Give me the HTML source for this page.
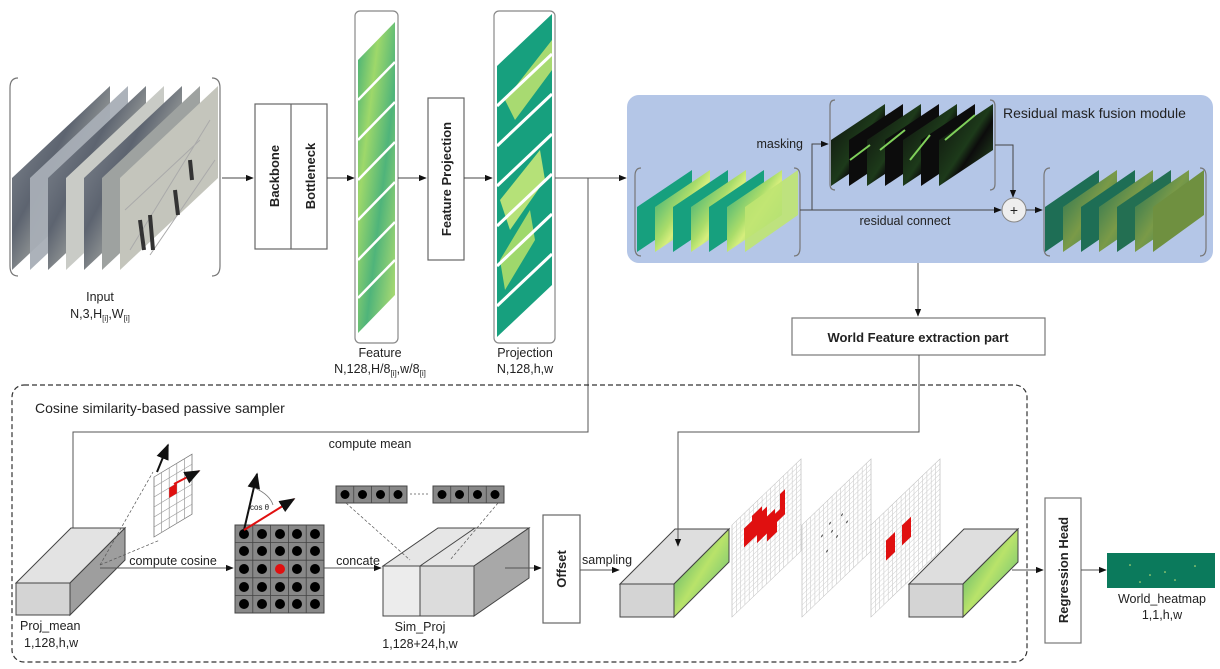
<!DOCTYPE html>
<html><head><meta charset="utf-8"><style>
html,body{margin:0;padding:0;background:#fff;}
svg{display:block;}
text{font-family:"Liberation Sans",Arial,sans-serif;fill:#222;}
</style></head><body>
<svg width="1220" height="669" viewBox="0 0 1220 669" xmlns="http://www.w3.org/2000/svg">
<defs>
<marker id="ar" viewBox="0 0 10 10" refX="9" refY="5" markerWidth="8" markerHeight="8" orient="auto"><path d="M0,1 L10,5 L0,9 z" fill="#111"/></marker>
<linearGradient id="gin" x1="0" y1="0" x2="1" y2="1"><stop offset="0" stop-color="#8c929a"/><stop offset="0.4" stop-color="#5d6470"/><stop offset="0.7" stop-color="#b7b9b0"/><stop offset="1" stop-color="#d8d8d0"/></linearGradient>
<linearGradient id="gfeat" x1="0" y1="0" x2="1" y2="1"><stop offset="0" stop-color="#3fae78"/><stop offset="0.3" stop-color="#9ed86a"/><stop offset="0.6" stop-color="#4fb47a"/><stop offset="1" stop-color="#b8e070"/></linearGradient>
<linearGradient id="gproj" x1="0" y1="0" x2="1" y2="1"><stop offset="0" stop-color="#17a07e"/><stop offset="0.45" stop-color="#a9dc6a"/><stop offset="0.55" stop-color="#d6ee7c"/><stop offset="1" stop-color="#17a07e"/></linearGradient>
<linearGradient id="gmask" x1="0" y1="0" x2="1" y2="1"><stop offset="0" stop-color="#0c0c0c"/><stop offset="0.5" stop-color="#1d3a1a"/><stop offset="0.6" stop-color="#0c0c0c"/><stop offset="1" stop-color="#2e5d28"/></linearGradient>
<linearGradient id="gout" x1="0" y1="0" x2="1" y2="1"><stop offset="0" stop-color="#1e6e55"/><stop offset="0.5" stop-color="#7a9a48"/><stop offset="1" stop-color="#2a7a58"/></linearGradient>
<linearGradient id="gside" x1="0" y1="0" x2="1" y2="1"><stop offset="0" stop-color="#2f9e6e"/><stop offset="0.5" stop-color="#b9e36a"/><stop offset="1" stop-color="#4db27a"/></linearGradient>
</defs>

<!-- INPUT -->
<path d="M18,78 Q10,78 10,88 L10,266 Q10,276 18,276" fill="none" stroke="#777" stroke-width="1.2"/>
<path d="M212,78 Q220,78 220,88 L220,266 Q220,276 212,276" fill="none" stroke="#777" stroke-width="1.2"/>
<g>
<polygon points="12,178 110,86 110,178 12,270" fill="url(#gin)"/>
<polygon points="30,178 128,86 128,178 30,270" fill="#a8aeb6" opacity="0.95"/>
<polygon points="48,178 146,86 146,178 48,270" fill="url(#gin)"/>
<polygon points="66,178 164,86 164,178 66,270" fill="#c9cbc6"/>
<polygon points="84,178 182,86 182,178 84,270" fill="url(#gin)"/>
<polygon points="102,178 200,86 200,178 102,270" fill="#9ea2a0"/>
<polygon points="120,178 218,86 218,178 120,270" fill="#c4c5bc"/>
<path d="M130,250 L210,120 M150,255 L215,160 M125,210 L200,140" stroke="#aaa" stroke-width="1"/>
<path d="M140,220 l4,30 M150,215 l3,35 M175,190 l3,25 M190,160 l2,20" stroke="#333" stroke-width="4"/>
</g>
<text x="100" y="301" font-size="12.5" text-anchor="middle">Input</text>
<text x="100" y="318" font-size="12.5" text-anchor="middle">N,3,H<tspan font-size="8" dy="3">[i]</tspan><tspan dy="-3">,W</tspan><tspan font-size="8" dy="3">[i]</tspan></text>

<line x1="222" y1="178" x2="253" y2="178" stroke="#444" stroke-width="1" marker-end="url(#ar)"/>
<rect x="255" y="104" width="72" height="145" fill="#fff" stroke="#666" stroke-width="1.2"/>
<line x1="291" y1="104" x2="291" y2="249" stroke="#666" stroke-width="1.2"/>
<text transform="translate(279,176) rotate(-90)" font-size="13" font-weight="bold" text-anchor="middle">Backbone</text>
<text transform="translate(315,176) rotate(-90)" font-size="13" font-weight="bold" text-anchor="middle">Bottleneck</text>
<line x1="327" y1="178" x2="354" y2="178" stroke="#444" stroke-width="1" marker-end="url(#ar)"/>

<!-- FEATURE column -->
<rect x="355" y="11" width="43" height="332" rx="5" fill="none" stroke="#888" stroke-width="1.2"/>
<polygon points="358,60 395,22 395,295 358,333" fill="url(#gfeat)"/>
<g stroke="#fff" stroke-width="2.5">
<line x1="358" y1="100" x2="395" y2="62"/><line x1="358" y1="140" x2="395" y2="102"/><line x1="358" y1="180" x2="395" y2="142"/><line x1="358" y1="220" x2="395" y2="182"/><line x1="358" y1="260" x2="395" y2="222"/><line x1="358" y1="298" x2="395" y2="260"/>
</g>
<line x1="398" y1="178" x2="426" y2="178" stroke="#444" stroke-width="1" marker-end="url(#ar)"/>
<text x="380" y="357" font-size="12.5" text-anchor="middle">Feature</text>
<text x="380" y="373" font-size="12.5" text-anchor="middle">N,128,H/8<tspan font-size="8" dy="3">[i]</tspan><tspan dy="-3">,w/8</tspan><tspan font-size="8" dy="3">[i]</tspan></text>

<rect x="428" y="98" width="36" height="162" fill="#fff" stroke="#666" stroke-width="1.2"/>
<text transform="translate(451,179) rotate(-90)" font-size="13" font-weight="bold" text-anchor="middle">Feature Projection</text>
<line x1="464" y1="178" x2="492" y2="178" stroke="#444" stroke-width="1" marker-end="url(#ar)"/>

<!-- PROJECTION column -->
<rect x="494" y="11" width="61" height="332" rx="5" fill="none" stroke="#888" stroke-width="1.2"/>
<polygon points="497,66 552,14 552,285 497,337" fill="#17a07e"/>
<polygon points="505,100 552,40 552,70 515,120" fill="#b8e070" opacity="0.9"/>
<polygon points="500,200 540,150 545,180 510,230" fill="#c6e878" opacity="0.9"/>
<polygon points="500,260 530,210 535,240 505,290" fill="#aede6a" opacity="0.9"/>
<g stroke="#fff" stroke-width="3">
<line x1="497" y1="106" x2="552" y2="54"/><line x1="497" y1="146" x2="552" y2="94"/><line x1="497" y1="186" x2="552" y2="134"/><line x1="497" y1="226" x2="552" y2="174"/><line x1="497" y1="266" x2="552" y2="214"/><line x1="497" y1="306" x2="552" y2="254"/>
</g>
<text x="525" y="357" font-size="12.5" text-anchor="middle">Projection</text>
<text x="525" y="373" font-size="12.5" text-anchor="middle">N,128,h,w</text>

<line x1="555" y1="178" x2="626" y2="178" stroke="#555" stroke-width="1" marker-end="url(#ar)"/>
<polyline points="588,178 588,432 73,432 73,548" fill="none" stroke="#555" stroke-width="1" marker-end="url(#ar)"/>

<!-- BLUE MODULE -->
<rect x="627" y="95" width="586" height="168" rx="12" fill="#b4c6e7"/>
<path d="M641,168 Q635,168 635,176 L635,248 Q635,256 641,256" fill="none" stroke="#777" stroke-width="1.2"/>
<path d="M794,168 Q800,168 800,176 L800,248 Q800,256 794,256" fill="none" stroke="#777" stroke-width="1.2"/>
<g>
<polygon points="637,252 637,207 692,170 692,215" fill="#17a07e"/>
<polygon points="655,252 655,207 710,170 710,215" fill="url(#gproj)"/>
<polygon points="673,252 673,207 728,170 728,215" fill="#17a07e"/>
<polygon points="691,252 691,207 746,170 746,215" fill="url(#gproj)"/>
<polygon points="709,252 709,207 764,170 764,215" fill="#17a07e"/>
<polygon points="727,252 727,207 782,170 782,215" fill="url(#gproj)"/>
<polygon points="745,252 745,207 798,170 798,215" fill="#bfe472" opacity="0.9"/>
</g>
<path d="M835,100 Q830,100 830,106 L830,184 Q830,190 835,190" fill="none" stroke="#777" stroke-width="1.2"/>
<path d="M990,100 Q995,100 995,106 L995,184 Q995,190 990,190" fill="none" stroke="#777" stroke-width="1.2"/>
<g>
<polygon points="831,186 831,140 885,104 885,150" fill="url(#gmask)"/>
<polygon points="849,186 849,140 903,104 903,150" fill="#0c0c0c"/>
<polygon points="867,186 867,140 921,104 921,150" fill="url(#gmask)"/>
<polygon points="885,186 885,140 939,104 939,150" fill="#0c0c0c"/>
<polygon points="903,186 903,140 957,104 957,150" fill="url(#gmask)"/>
<polygon points="921,186 921,140 975,104 975,150" fill="#0c0c0c"/>
<polygon points="939,186 939,140 993,104 993,150" fill="url(#gmask)"/>
<path d="M850,160 l20,-15 M880,150 l25,-20 M910,160 l20,-25 M945,140 l30,-25" stroke="#7fcf5a" stroke-width="2"/>
</g>
<text x="1003" y="118" font-size="14">Residual mask fusion module</text>
<text x="803" y="148" font-size="12.5" text-anchor="end">masking</text>
<polyline points="812,210 812,144 828,144" fill="none" stroke="#444" stroke-width="1" marker-end="url(#ar)"/>
<line x1="800" y1="210" x2="1001" y2="210" stroke="#444" stroke-width="1" marker-end="url(#ar)"/>
<text x="905" y="225" font-size="12.5" text-anchor="middle">residual connect</text>
<polyline points="995,145 1013,145 1013,197" fill="none" stroke="#444" stroke-width="1" marker-end="url(#ar)"/>
<circle cx="1014" cy="210" r="12" fill="#eee" stroke="#888" stroke-width="1"/>
<text x="1014" y="215" font-size="14" text-anchor="middle" fill="#999">+</text>
<line x1="1026" y1="210" x2="1042" y2="210" stroke="#444" stroke-width="1" marker-end="url(#ar)"/>
<path d="M1050,168 Q1044,168 1044,176 L1044,248 Q1044,256 1050,256" fill="none" stroke="#777" stroke-width="1.2"/>
<path d="M1200,168 Q1206,168 1206,176 L1206,248 Q1206,256 1200,256" fill="none" stroke="#777" stroke-width="1.2"/>
<g>
<polygon points="1045,252 1045,207 1099,170 1099,215" fill="#1e6e55"/>
<polygon points="1063,252 1063,207 1117,170 1117,215" fill="url(#gout)"/>
<polygon points="1081,252 1081,207 1135,170 1135,215" fill="#1e6e55"/>
<polygon points="1099,252 1099,207 1153,170 1153,215" fill="url(#gout)"/>
<polygon points="1117,252 1117,207 1171,170 1171,215" fill="#236f52"/>
<polygon points="1135,252 1135,207 1189,170 1189,215" fill="url(#gout)"/>
<polygon points="1153,252 1153,207 1204,170 1204,215" fill="#6f9040"/>
</g>

<line x1="918" y1="263" x2="918" y2="316" stroke="#555" stroke-width="1" marker-end="url(#ar)"/>
<rect x="792" y="318" width="253" height="37" fill="#fff" stroke="#777" stroke-width="1.2"/>
<text x="918" y="342" font-size="13" font-weight="bold" text-anchor="middle">World Feature extraction part</text>
<polyline points="919,355 919,432 678,432 678,546" fill="none" stroke="#555" stroke-width="1" marker-end="url(#ar)"/>

<!-- DASHED CONTAINER -->
<rect x="12" y="385" width="1015" height="277" rx="12" fill="none" stroke="#333" stroke-width="1.2" stroke-dasharray="5,3"/>
<text x="35" y="413" font-size="14">Cosine similarity-based passive sampler</text>
<text x="370" y="448" font-size="12.5" text-anchor="middle">compute mean</text>

<!-- Proj_mean box -->
<polygon points="16,583 70,583 125,528 71,528" fill="#e3e3e3" stroke="#444" stroke-width="1"/>
<polygon points="70,583 125,528 125,560 70,615" fill="#9e9e9e" stroke="#444" stroke-width="1"/>
<rect x="16" y="583" width="54" height="32" fill="#d4d4d4" stroke="#444" stroke-width="1"/>
<text x="20" y="630" font-size="12.5">Proj_mean</text>
<text x="24" y="647" font-size="12.5">1,128,h,w</text>
<g transform="matrix(1,-0.6,0,1,154,477)">
<rect x="0" y="0" width="38" height="60" fill="#fff" stroke="#777" stroke-width="0.8"/>
<path d="M7.6,0v60M15.2,0v60M22.8,0v60M30.4,0v60M0,10h38M0,20h38M0,30h38M0,40h38M0,50h38" stroke="#999" stroke-width="0.7"/>
<rect x="15.2" y="20" width="7.6" height="10" fill="#e01010"/>
</g>
<line x1="157" y1="472" x2="168" y2="445" stroke="#111" stroke-width="2" marker-end="url(#ar)"/>
<line x1="174" y1="484" x2="199" y2="471" stroke="#e01010" stroke-width="2" marker-end="url(#ar)"/>
<path d="M100,565 L153,472 M100,565 L160,540" stroke="#555" stroke-width="0.7" stroke-dasharray="3,2" fill="none"/>
<line x1="100" y1="568" x2="233" y2="568" stroke="#555" stroke-width="1" marker-end="url(#ar)"/>
<text x="173" y="565" font-size="12.5" text-anchor="middle">compute cosine</text>

<!-- cosine grid -->
<rect x="235" y="525" width="89" height="88" fill="#888" stroke="#444" stroke-width="1"/>
<g stroke="#444" stroke-width="0.8">
<line x1="252.8" y1="525" x2="252.8" y2="613"/><line x1="270.6" y1="525" x2="270.6" y2="613"/><line x1="288.4" y1="525" x2="288.4" y2="613"/><line x1="306.2" y1="525" x2="306.2" y2="613"/>
<line x1="235" y1="542.6" x2="324" y2="542.6"/><line x1="235" y1="560.2" x2="324" y2="560.2"/><line x1="235" y1="577.8" x2="324" y2="577.8"/><line x1="235" y1="595.4" x2="324" y2="595.4"/>
</g>
<g fill="#000">
<circle cx="244" cy="534" r="5"/><circle cx="262" cy="534" r="5"/><circle cx="280" cy="534" r="5"/><circle cx="297" cy="534" r="5"/><circle cx="315" cy="534" r="5"/>
<circle cx="244" cy="551" r="5"/><circle cx="262" cy="551" r="5"/><circle cx="280" cy="551" r="5"/><circle cx="297" cy="551" r="5"/><circle cx="315" cy="551" r="5"/>
<circle cx="244" cy="569" r="5"/><circle cx="262" cy="569" r="5"/><circle cx="297" cy="569" r="5"/><circle cx="315" cy="569" r="5"/>
<circle cx="244" cy="587" r="5"/><circle cx="262" cy="587" r="5"/><circle cx="280" cy="587" r="5"/><circle cx="297" cy="587" r="5"/><circle cx="315" cy="587" r="5"/>
<circle cx="244" cy="604" r="5"/><circle cx="262" cy="604" r="5"/><circle cx="280" cy="604" r="5"/><circle cx="297" cy="604" r="5"/><circle cx="315" cy="604" r="5"/>
</g>
<circle cx="280" cy="569" r="5" fill="#e01010"/>
<line x1="244" y1="530" x2="257" y2="474" stroke="#111" stroke-width="2" marker-end="url(#ar)"/>
<line x1="244" y1="530" x2="294" y2="499" stroke="#e01010" stroke-width="2" marker-end="url(#ar)"/>
<path d="M255,488 Q270,495 273,505" fill="none" stroke="#777" stroke-width="0.8"/>
<text x="250" y="510" font-size="8" fill="#444">cos θ</text>
<line x1="324" y1="568" x2="381" y2="568" stroke="#555" stroke-width="1" marker-end="url(#ar)"/>
<text x="358" y="565" font-size="12.5" text-anchor="middle">concate</text>

<rect x="336" y="486" width="71" height="17" fill="#888" stroke="#444" stroke-width="1"/>
<path d="M353.75,486v17M371.5,486v17M389.25,486v17" stroke="#444" stroke-width="0.8"/>
<g fill="#000"><circle cx="345" cy="494.5" r="4.5"/><circle cx="362.5" cy="494.5" r="4.5"/><circle cx="380.5" cy="494.5" r="4.5"/><circle cx="398" cy="494.5" r="4.5"/></g>
<line x1="410" y1="494" x2="430" y2="494" stroke="#555" stroke-dasharray="2,2" stroke-width="0.8"/>
<rect x="433" y="486" width="71" height="17" fill="#888" stroke="#444" stroke-width="1"/>
<path d="M450.75,486v17M468.5,486v17M486.25,486v17" stroke="#444" stroke-width="0.8"/>
<g fill="#000"><circle cx="442" cy="494.5" r="4.5"/><circle cx="459.5" cy="494.5" r="4.5"/><circle cx="477.5" cy="494.5" r="4.5"/><circle cx="495" cy="494.5" r="4.5"/></g>

<!-- Sim_Proj box -->
<polygon points="383,566 474,566 529,528 438,528" fill="#e6e6e6" stroke="#444" stroke-width="1"/>
<polygon points="474,566 529,528 529,578 474,616" fill="#a8a8a8" stroke="#444" stroke-width="1"/>
<rect x="383" y="566" width="91" height="50" fill="#dcdcdc" stroke="#444" stroke-width="1"/>
<rect x="383" y="566" width="37" height="50" fill="#ececec" stroke="#444" stroke-width="1"/>
<line x1="420" y1="566" x2="475" y2="528" stroke="#444" stroke-width="1"/>
<path d="M346,503 L410,560 M498,503 L450,560" stroke="#555" stroke-width="0.7" stroke-dasharray="3,2" fill="none"/>
<text x="420" y="631" font-size="12.5" text-anchor="middle">Sim_Proj</text>
<text x="420" y="648" font-size="12.5" text-anchor="middle">1,128+24,h,w</text>
<line x1="505" y1="568" x2="541" y2="568" stroke="#555" stroke-width="1" marker-end="url(#ar)"/>
<rect x="543" y="515" width="37" height="108" fill="#fff" stroke="#666" stroke-width="1.2"/>
<text transform="translate(566,569) rotate(-90)" font-size="13" font-weight="bold" text-anchor="middle">Offset</text>
<line x1="580" y1="570" x2="619" y2="570" stroke="#555" stroke-width="1" marker-end="url(#ar)"/>
<text x="582" y="564" font-size="12.5">sampling</text>

<!-- green box 1 -->
<polygon points="620,584 674,584 729,529 675,529" fill="#dedede" stroke="#444" stroke-width="1"/>
<polygon points="674,584 729,529 729,562 674,617" fill="url(#gside)" stroke="#444" stroke-width="1"/>
<rect x="620" y="584" width="54" height="33" fill="#d4d4d4" stroke="#444" stroke-width="1"/>
<line x1="678" y1="520" x2="678" y2="546" stroke="#555" stroke-width="1" marker-end="url(#ar)"/>

<!-- grids -->
<g transform="matrix(1,-0.957,0,1,732,525)">
<rect x="0" y="0" width="69" height="92" fill="#fff" stroke="#bbb" stroke-width="0.7"/>
<path d="M4.3,0v92M8.6,0v92M12.9,0v92M17.2,0v92M21.5,0v92M25.8,0v92M30.1,0v92M34.4,0v92M38.7,0v92M43,0v92M47.3,0v92M51.6,0v92M55.9,0v92M60.2,0v92M64.5,0v92M0,5h69M0,10h69M0,15h69M0,20h69M0,25h69M0,30h69M0,35h69M0,40h69M0,45h69M0,50h69M0,55h69M0,60h69M0,65h69M0,70h69M0,75h69M0,80h69M0,85h69" stroke="#ccc" stroke-width="0.6"/>
<path d="M12,15 h8 v-5 h10 v5 h5 v10 h8 v5 h5 v-15 h5 v25 h-8 v10 h-10 v-8 h-10 v-8 h-13 z" fill="#e01010"/>
</g>
<g transform="matrix(1,-0.957,0,1,802,525)">
<rect x="0" y="0" width="69" height="92" fill="#fff" stroke="#bbb" stroke-width="0.7"/>
<path d="M4.3,0v92M8.6,0v92M12.9,0v92M17.2,0v92M21.5,0v92M25.8,0v92M30.1,0v92M34.4,0v92M38.7,0v92M43,0v92M47.3,0v92M51.6,0v92M55.9,0v92M60.2,0v92M64.5,0v92M0,5h69M0,10h69M0,15h69M0,20h69M0,25h69M0,30h69M0,35h69M0,40h69M0,45h69M0,50h69M0,55h69M0,60h69M0,65h69M0,70h69M0,75h69M0,80h69M0,85h69" stroke="#ccc" stroke-width="0.6"/>
<g fill="#555"><circle cx="20" cy="30" r="1"/><circle cx="28" cy="25" r="1"/><circle cx="30" cy="35" r="1"/><circle cx="40" cy="28" r="1"/><circle cx="35" cy="45" r="1"/><circle cx="45" cy="40" r="1"/><circle cx="25" cy="50" r="1"/></g>
</g>
<g transform="matrix(1,-0.957,0,1,871,525)">
<rect x="0" y="0" width="69" height="92" fill="#fff" stroke="#bbb" stroke-width="0.7"/>
<path d="M4.3,0v92M8.6,0v92M12.9,0v92M17.2,0v92M21.5,0v92M25.8,0v92M30.1,0v92M34.4,0v92M38.7,0v92M43,0v92M47.3,0v92M51.6,0v92M55.9,0v92M60.2,0v92M64.5,0v92M0,5h69M0,10h69M0,15h69M0,20h69M0,25h69M0,30h69M0,35h69M0,40h69M0,45h69M0,50h69M0,55h69M0,60h69M0,65h69M0,70h69M0,75h69M0,80h69M0,85h69" stroke="#ccc" stroke-width="0.6"/>
<rect x="15" y="30" width="9" height="20" fill="#e01010"/>
<rect x="31" y="30" width="9" height="20" fill="#e01010"/>
</g>

<!-- green box 2 -->
<polygon points="909,584 963,584 1018,529 964,529" fill="#dedede" stroke="#444" stroke-width="1"/>
<polygon points="963,584 1018,529 1018,562 963,617" fill="url(#gside)" stroke="#444" stroke-width="1"/>
<rect x="909" y="584" width="54" height="33" fill="#d4d4d4" stroke="#444" stroke-width="1"/>
<line x1="1012" y1="570" x2="1043" y2="570" stroke="#555" stroke-width="1" marker-end="url(#ar)"/>

<rect x="1045" y="498" width="36" height="145" fill="#fff" stroke="#777" stroke-width="1.2"/>
<text transform="translate(1068,570) rotate(-90)" font-size="13" font-weight="bold" text-anchor="middle">Regression Head</text>
<line x1="1081" y1="570" x2="1106" y2="570" stroke="#555" stroke-width="1" marker-end="url(#ar)"/>
<rect x="1107" y="553" width="108" height="35" fill="#0b7a5c"/>
<g fill="#cfe87a"><circle cx="1130" cy="565" r="0.8"/><circle cx="1150" cy="575" r="0.8"/><circle cx="1165" cy="572" r="0.8"/><circle cx="1175" cy="580" r="0.8"/><circle cx="1195" cy="566" r="0.8"/><circle cx="1140" cy="582" r="0.8"/></g>
<text x="1162" y="603" font-size="12.5" text-anchor="middle">World_heatmap</text>
<text x="1162" y="619" font-size="12.5" text-anchor="middle">1,1,h,w</text>
</svg>
</body></html>
